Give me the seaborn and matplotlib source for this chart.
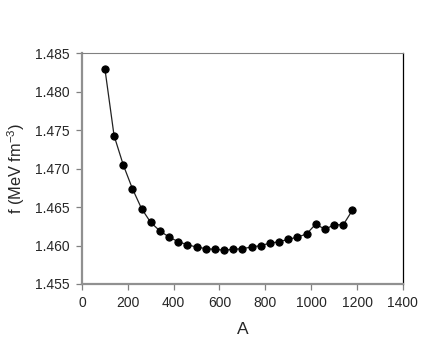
import matplotlib
matplotlib.use("Agg")
import matplotlib.pyplot as plt
import seaborn as sns
import pandas as pd

A_values = [100, 140, 180, 220, 260, 300, 340, 380, 420, 460, 500, 540, 580, 620,
            660, 700, 740, 780, 820, 860, 900, 940, 980, 1020, 1060, 1100, 1140, 1180]
f_values = [1.4830, 1.4743, 1.4705, 1.4674, 1.4648, 1.4630, 1.4619, 1.4611, 1.4605,
            1.4601, 1.4598, 1.4596, 1.4595, 1.4594, 1.4595, 1.4596, 1.4598, 1.4600,
            1.4603, 1.4605, 1.4608, 1.4611, 1.4615, 1.4628, 1.4621, 1.4627, 1.4627,
            1.4646]
x_ticks = [0, 200, 400, 600, 800, 1000, 1200, 1400]
y_ticks = [1.455, 1.460, 1.465, 1.470, 1.475, 1.480, 1.485]

sns.set_style("white")
plt.rcParams['font.family'] = ['Liberation Sans', 'DejaVu Sans']

df = pd.DataFrame({"A": A_values, "f": f_values})

fig = plt.figure(figsize=(4.36, 3.59), dpi=100)
ax = fig.add_axes([0.188, 0.209, 0.736, 0.6425])
sns.lineplot(data=df, x="A", y="f", ax=ax, color="#222222", linewidth=0.9,
             marker="o", markersize=5.2, markerfacecolor="black",
             markeredgecolor="black", sort=False)

ax.set_xlim(0, 1400)
ax.set_ylim(1.455, 1.485)
ax.set_xticks(x_ticks)
ax.set_yticks(y_ticks)
ax.set_xticklabels([str(t) for t in x_ticks], fontsize=10)
ax.set_yticklabels([f"{t:.3f}" for t in y_ticks], fontsize=10)
ax.tick_params(axis="both", direction="out", length=4, width=0.9,
               color="#808080", pad=5, left=True, bottom=True)

for side in ["left", "bottom"]:
    ax.spines[side].set_color("#909090")
    ax.spines[side].set_linewidth(1.6)
ax.spines["top"].set_color("#808080")
ax.spines["top"].set_linewidth(0.8)
ax.spines["right"].set_color("black")
ax.spines["right"].set_linewidth(0.9)

ax.set_xlabel("A", fontsize=12.5, labelpad=8)
ax.set_ylabel(r"f (MeV fm$^{\mathregular{-3}}$)", fontsize=11.8, labelpad=6)

fig.savefig("out.png", dpi=100)
